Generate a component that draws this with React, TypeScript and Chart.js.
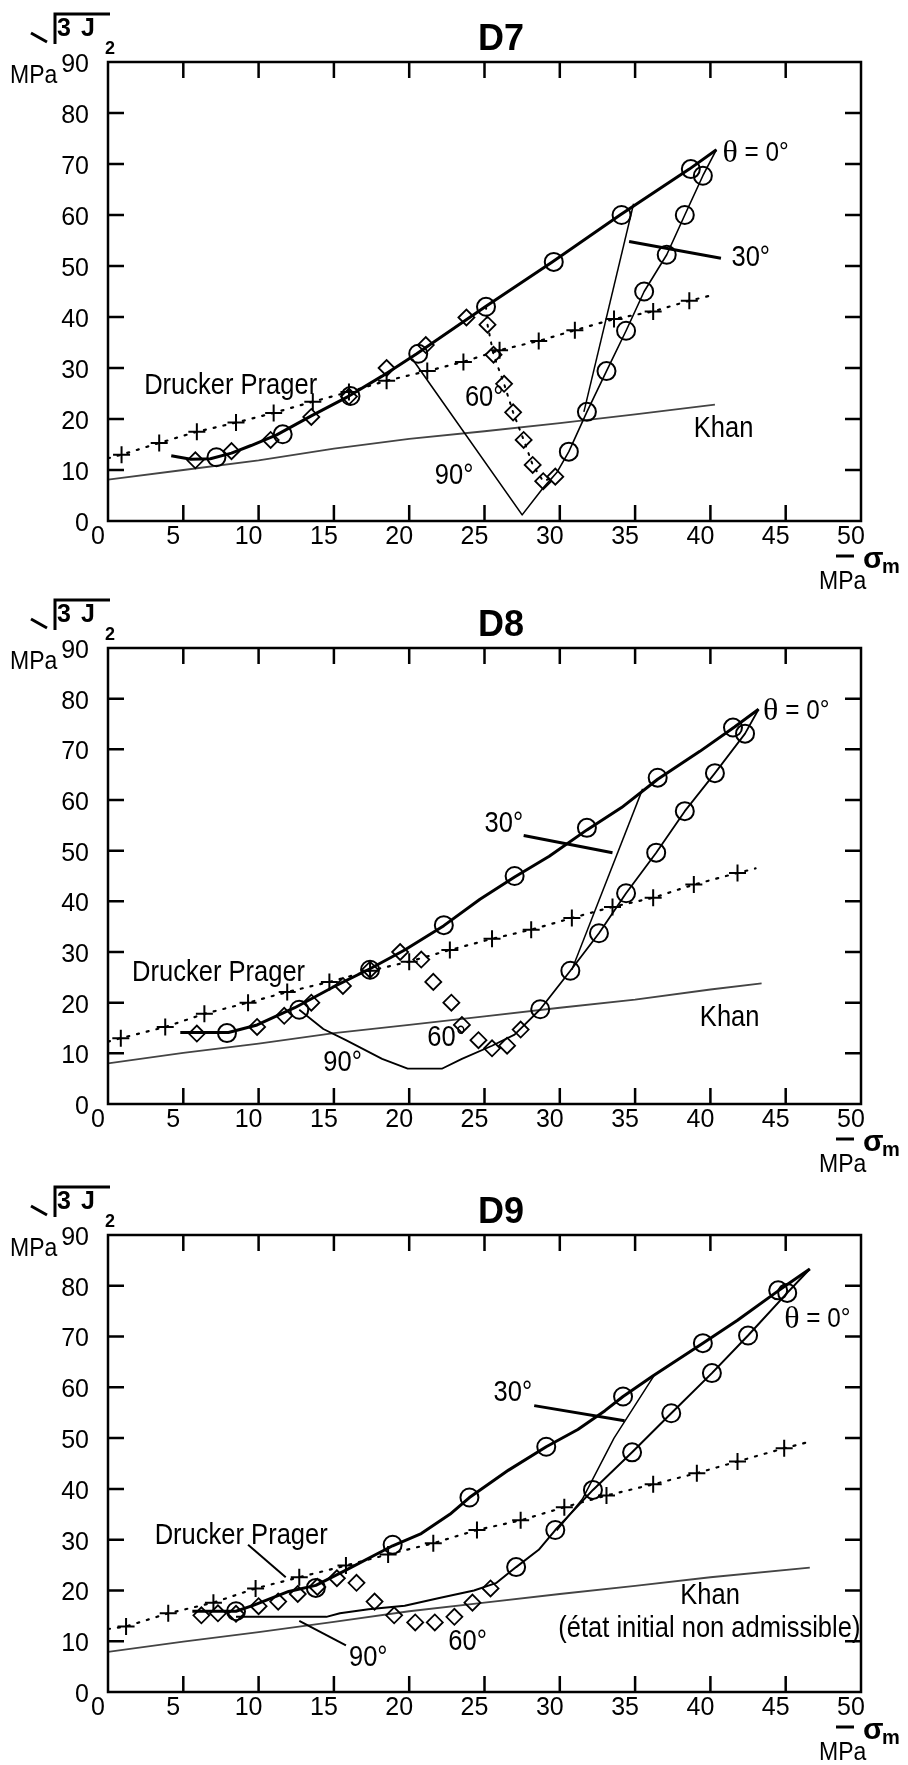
import React, { useEffect, useRef } from "react";
import { Chart, registerables } from "chart.js";

Chart.register(...registerables);

type Pt = [number, number];
type Note = { text: string; x: number; y: number };

const FONT = '"Liberation Sans", Arial, Helvetica, sans-serif';
const SERIF = '"Liberation Serif", "Times New Roman", serif';

const xTickValues = [0, 5, 10, 15, 20, 25, 30, 35, 40, 45, 50];
const yTickValues = [0, 10, 20, 30, 40, 50, 60, 70, 80, 90];

// ---------------- D7 ----------------
const d7DpMarks: Pt[] = [[0.9, 13.0], [3.4, 15.3], [5.9, 17.5], [8.5, 19.3], [11.0, 21.2], [13.6, 23.4], [16.0, 25.3], [18.5, 27.5], [21.2, 29.4], [23.6, 31.2], [26.0, 33.5], [28.6, 35.3], [31.0, 37.4], [33.6, 39.6], [36.2, 41.1], [38.6, 43.2]];
const d7DpLine: Pt[] = [[0, 12.3], [0.9, 13.0], [3.4, 15.3], [5.9, 17.5], [8.5, 19.3], [11.0, 21.2], [13.6, 23.4], [16.0, 25.3], [18.5, 27.5], [21.2, 29.4], [23.6, 31.2], [26.0, 33.5], [28.6, 35.3], [31.0, 37.4], [33.6, 39.6], [36.2, 41.1], [38.6, 43.2], [40.3, 44.4]];
const d7Khan: Pt[] = [[0, 8.1], [5, 10.0], [10, 11.9], [15, 14.2], [20, 16.1], [25, 17.6], [30, 19.2], [35, 20.9], [40.3, 22.8]];
const d7Upper: Pt[] = [[4.2, 12.8], [5.5, 12.1], [6.8, 12.2], [8.2, 13.3], [9.5, 14.8], [11.2, 16.9], [13.5, 20.6], [16.0, 24.5], [18.2, 28.4], [20.5, 32.8], [25.0, 41.9], [29.5, 50.8], [34.0, 60.0], [38.6, 69.0], [40.4, 72.8]];
const d7UpperCircles: Pt[] = [[7.2, 12.5], [11.6, 17.0], [16.1, 24.5], [20.6, 32.8], [25.1, 42.0], [29.6, 50.8], [34.1, 60.0], [38.7, 69.0]];
const d7Return: Pt[] = [[20.2, 31.8], [27.5, 1.2], [28.9, 6.5], [29.8, 9.5], [30.6, 13.6], [31.8, 21.4], [33.1, 29.4], [34.4, 37.3], [35.6, 45.0], [37.1, 52.2], [38.3, 60.0], [39.5, 67.7], [40.4, 72.8]];
const d7ReturnCircles: Pt[] = [[39.5, 67.7], [38.3, 60.0], [37.1, 52.2], [35.6, 45.0], [34.4, 37.3], [33.1, 29.4], [31.8, 21.4], [30.6, 13.6]];
const d7Thirty: Pt[] = [[34.9, 62.2], [31.6, 21.4]];
const d7ThirtyPointer: Pt[] = [[34.6, 54.8], [40.7, 51.5]];
const d7SixtyLine: Pt[] = [[25.1, 42.0], [25.2, 38.5], [25.6, 32.6], [26.3, 26.9], [26.9, 21.3], [27.6, 15.9], [28.2, 11.0], [28.9, 7.8], [29.7, 8.7]];
const d7Diamonds: Pt[] = [[5.8, 11.9], [8.2, 13.7], [10.8, 15.9], [13.5, 20.4], [16.0, 24.4], [18.5, 30.0], [21.1, 34.5], [23.8, 39.9], [25.2, 38.5], [25.6, 32.6], [26.3, 26.9], [26.9, 21.3], [27.6, 15.9], [28.2, 11.0], [28.9, 7.8], [29.7, 8.7]];
const d7Notes: Note[] = [
  { text: "θ = 0°", x: 40.8, y: 72.0 },
  { text: "30°", x: 41.4, y: 51.5 },
  { text: "Drucker Prager", x: 2.4, y: 26.5 },
  { text: "60°", x: 23.7, y: 24.1 },
  { text: "90°", x: 21.7, y: 8.9 },
  { text: "Khan", x: 38.9, y: 18.1 },
];

// ---------------- D8 ----------------
const d8DpMarks: Pt[] = [[0.85, 13.0], [3.8, 15.2], [6.4, 17.8], [9.3, 20.0], [11.9, 22.1], [14.7, 24.1], [17.4, 26.3], [20.0, 28.1], [22.7, 30.4], [25.5, 32.6], [28.1, 34.4], [30.8, 36.7], [33.5, 38.9], [36.2, 40.7], [38.9, 43.3], [41.8, 45.6]];
const d8DpLine: Pt[] = [[0, 12.3], [0.85, 13.0], [3.8, 15.2], [6.4, 17.8], [9.3, 20.0], [11.9, 22.1], [14.7, 24.1], [17.4, 26.3], [20.0, 28.1], [22.7, 30.4], [25.5, 32.6], [28.1, 34.4], [30.8, 36.7], [33.5, 38.9], [36.2, 40.7], [38.9, 43.3], [41.8, 45.6], [43.0, 46.5]];
const d8Khan: Pt[] = [[0, 8.0], [5, 10.1], [10, 11.9], [15, 14.0], [20, 15.6], [25, 17.3], [30, 19.0], [35, 20.6], [40, 22.6], [43.4, 23.8]];
const d8Upper: Pt[] = [[4.8, 14.1], [8.0, 14.1], [9.9, 15.6], [12.4, 19.0], [14.9, 23.0], [17.4, 26.7], [19.7, 30.4], [22.3, 35.2], [24.7, 40.4], [27.0, 44.8], [29.3, 48.9], [31.8, 54.1], [34.1, 58.5], [36.5, 64.1], [39.3, 69.6], [41.6, 74.4], [43.2, 77.9]];
const d8UpperCircles: Pt[] = [[7.9, 14.0], [12.7, 18.6], [17.4, 26.5], [22.3, 35.3], [27.0, 45.0], [31.8, 54.5], [36.5, 64.4], [41.5, 74.3]];
const d8Return: Pt[] = [[12.7, 18.6], [14.3, 14.8], [15.8, 12.6], [18.2, 8.9], [19.9, 7.0], [22.2, 7.0], [23.5, 8.9], [25.5, 11.5], [27.0, 13.7], [28.7, 18.7], [30.7, 26.3], [32.6, 33.7], [34.4, 41.6], [36.4, 49.6], [38.3, 57.8], [40.3, 65.3], [42.3, 73.1], [43.2, 77.9]];
const d8ReturnCircles: Pt[] = [[42.3, 73.1], [40.3, 65.3], [38.3, 57.8], [36.4, 49.6], [34.4, 41.6], [32.6, 33.7], [30.7, 26.3], [28.7, 18.7]];
const d8Thirty: Pt[] = [[35.5, 62.2], [30.8, 26.5]];
const d8ThirtyPointer: Pt[] = [[27.6, 53.0], [33.5, 49.6]];
const d8Diamonds: Pt[] = [[5.9, 13.9], [9.9, 15.2], [11.7, 17.4], [13.5, 20.0], [15.6, 23.3], [17.4, 26.5], [19.4, 30.0], [20.8, 28.5], [21.6, 24.1], [22.8, 20.0], [23.5, 15.6], [24.6, 12.6], [25.5, 11.0], [26.5, 11.5], [27.4, 14.7]];
const d8Notes: Note[] = [
  { text: "θ = 0°", x: 43.5, y: 77.4 },
  { text: "30°", x: 25.0, y: 55.2 },
  { text: "Drucker Prager", x: 1.6, y: 25.9 },
  { text: "60°", x: 21.2, y: 13.0 },
  { text: "90°", x: 14.3, y: 8.0 },
  { text: "Khan", x: 39.3, y: 17.0 },
];

// ---------------- D9 ----------------
const d9DpMarks: Pt[] = [[1.2, 12.9], [4.0, 15.5], [7.0, 17.6], [9.8, 20.4], [12.7, 22.6], [15.8, 24.9], [18.6, 27.1], [21.6, 29.3], [24.5, 31.9], [27.4, 33.8], [30.3, 36.4], [33.1, 38.7], [36.2, 40.9], [39.1, 43.1], [41.8, 45.4], [44.9, 48.0]];
const d9DpLine: Pt[] = [[0, 12.4], [1.2, 12.9], [4.0, 15.5], [7.0, 17.6], [9.8, 20.4], [12.7, 22.6], [15.8, 24.9], [18.6, 27.1], [21.6, 29.3], [24.5, 31.9], [27.4, 33.8], [30.3, 36.4], [33.1, 38.7], [36.2, 40.9], [39.1, 43.1], [41.8, 45.4], [44.9, 48.0], [46.6, 49.3]];
const d9Khan: Pt[] = [[0, 7.9], [5, 9.9], [10, 11.8], [15, 13.8], [20, 15.9], [25, 17.6], [30, 19.3], [35, 20.9], [40, 22.6], [46.6, 24.5]];
const d9Upper: Pt[] = [[5.6, 15.9], [8.5, 15.9], [9.6, 17.0], [12.0, 19.8], [13.8, 21.0], [15.8, 24.0], [18.9, 28.8], [20.8, 31.2], [22.7, 35.0], [24.0, 38.3], [26.6, 43.7], [29.1, 48.3], [31.2, 51.7], [33.0, 55.4], [34.2, 58.2], [36.2, 62.3], [39.5, 68.7], [41.8, 73.2], [44.5, 79.0], [46.6, 83.3]];
const d9UpperCircles: Pt[] = [[8.5, 15.9], [13.8, 20.5], [18.9, 29.0], [24.0, 38.3], [29.1, 48.3], [34.2, 58.2], [39.5, 68.7], [44.5, 79.1]];
const d9Return: Pt[] = [[8.5, 14.8], [14.5, 14.8], [15.4, 15.5], [17.3, 16.3], [19.7, 17.0], [22.0, 18.5], [24.3, 20.0], [25.8, 21.5], [27.1, 24.6], [28.6, 28.0], [29.7, 31.9], [32.2, 39.8], [34.8, 47.2], [37.4, 54.9], [40.1, 62.8], [42.5, 70.2], [45.1, 78.6], [46.6, 83.3]];
const d9ReturnCircles: Pt[] = [[45.1, 78.6], [42.5, 70.2], [40.1, 62.8], [37.4, 54.9], [34.8, 47.2], [32.2, 39.8], [29.7, 31.9], [27.1, 24.6]];
const d9Thirty: Pt[] = [[36.3, 62.5], [33.6, 50.0], [31.5, 38.0], [29.8, 31.8]];
const d9ThirtyPointer: Pt[] = [[28.3, 56.4], [34.3, 53.4]];
const d9NinetyPointer: Pt[] = [[12.7, 14.0], [15.8, 9.2]];
const d9DpPointer: Pt[] = [[9.3, 29.0], [11.8, 22.6]];
const d9Diamonds: Pt[] = [[6.2, 15.1], [7.3, 15.5], [8.5, 15.4], [10.0, 16.9], [11.3, 17.8], [12.6, 19.3], [13.9, 20.7], [15.2, 22.4], [16.5, 21.5], [17.7, 17.8], [19.0, 15.1], [20.4, 13.7], [21.7, 13.7], [23.0, 14.8], [24.2, 17.6], [25.4, 20.4]];
const d9Notes: Note[] = [
  { text: "θ = 0°", x: 44.9, y: 73.4 },
  { text: "30°", x: 25.6, y: 58.8 },
  { text: "Drucker Prager", x: 3.1, y: 30.8 },
  { text: "60°", x: 22.6, y: 9.9 },
  { text: "90°", x: 16.0, y: 6.6 },
  { text: "Khan", x: 38.0, y: 18.9 },
  { text: "(état initial non admissible)", x: 29.9, y: 12.5 },
];

// ---------------- helpers ----------------
const toXY = (pts: Pt[]) => pts.map(([x, y]) => ({ x, y }));

const lineDs = (pts: Pt[], width: number, color = "#000", dash: number[] = []) => ({
  data: toXY(pts),
  showLine: true,
  borderColor: color,
  borderWidth: width,
  borderDash: dash,
  borderCapStyle: dash.length ? "round" : "butt",
  borderJoinStyle: "round",
  pointRadius: 0,
  pointHoverRadius: 0,
  fill: false,
  tension: 0,
});

const markDs = (pts: Pt[], style: string, radius: number, width: number) => ({
  data: toXY(pts),
  showLine: false,
  pointStyle: style,
  pointRadius: radius,
  pointHoverRadius: radius,
  pointBorderWidth: width,
  pointBorderColor: "#000",
  pointBackgroundColor: "rgba(0,0,0,0)",
});

type PanelCfg = {
  title: string;
  canvasTop: number;
  canvasHeight: number;
  plotBottom: number;
  datasets: any[];
  notes: Note[];
};

const PLOT_TOP = 62;
const PLOT_LEFT = 108;
const PLOT_RIGHT = 861;
const W = 908;

const panels: PanelCfg[] = [
  {
    title: "D7",
    canvasTop: 0,
    canvasHeight: 600,
    plotBottom: 521,
    notes: d7Notes,
    datasets: [
      markDs(d7UpperCircles, "circle", 9, 2),
      markDs(d7ReturnCircles, "circle", 9, 2),
      markDs(d7Diamonds, "rectRot", 8, 1.8),
      markDs(d7DpMarks, "cross", 8.5, 2),
      lineDs(d7Upper, 3),
      lineDs(d7Return, 1.6),
      lineDs(d7Thirty, 1.5),
      lineDs(d7ThirtyPointer, 3),
      lineDs(d7SixtyLine, 2, "#000", [2, 7]),
      lineDs(d7DpLine, 2.2, "#000", [2, 8]),
      lineDs(d7Khan, 1.8, "#444"),
    ],
  },
  {
    title: "D8",
    canvasTop: 586,
    canvasHeight: 600,
    plotBottom: 518,
    notes: d8Notes,
    datasets: [
      markDs(d8UpperCircles, "circle", 9, 2),
      markDs(d8ReturnCircles, "circle", 9, 2),
      markDs(d8Diamonds, "rectRot", 8, 1.8),
      markDs(d8DpMarks, "cross", 8.5, 2),
      lineDs(d8Upper, 3),
      lineDs(d8Return, 1.8),
      lineDs(d8Thirty, 1.5),
      lineDs(d8ThirtyPointer, 3),
      lineDs(d8DpLine, 2.2, "#000", [2, 8]),
      lineDs(d8Khan, 1.8, "#444"),
    ],
  },
  {
    title: "D9",
    canvasTop: 1173,
    canvasHeight: 592,
    plotBottom: 519,
    notes: d9Notes,
    datasets: [
      markDs(d9UpperCircles, "circle", 9, 2),
      markDs(d9ReturnCircles, "circle", 9, 2),
      markDs(d9Diamonds, "rectRot", 8, 1.8),
      markDs(d9DpMarks, "cross", 8.5, 2),
      lineDs(d9Upper, 3),
      lineDs(d9Return, 2),
      lineDs(d9Thirty, 1.5),
      lineDs(d9ThirtyPointer, 3),
      lineDs(d9NinetyPointer, 2),
      lineDs(d9DpPointer, 2),
      lineDs(d9DpLine, 2.2, "#000", [2, 8]),
      lineDs(d9Khan, 1.8, "#444"),
    ],
  },
];

// text drawn slightly condensed (scanned Helvetica look)
const drawCondensed = (ctx: CanvasRenderingContext2D, text: string, x: number, y: number, size: number, sx: number) => {
  ctx.save();
  ctx.translate(x, y);
  ctx.scale(sx, 1);
  ctx.font = `${size}px ${FONT}`;
  ctx.fillText(text, 0, 0);
  const w = ctx.measureText(text).width * sx;
  ctx.restore();
  return w;
};

const makeDecor = (cfg: PanelCfg) => ({
  id: "decor" + cfg.title,
  afterDraw(chart: any) {
    const ctx: CanvasRenderingContext2D = chart.ctx;
    const ca = chart.chartArea;
    const xs = chart.scales.x;
    const ys = chart.scales.y;
    ctx.save();
    ctx.strokeStyle = "#000";
    ctx.fillStyle = "#000";
    ctx.lineWidth = 2.5;
    ctx.lineCap = "butt";
    ctx.strokeRect(ca.left, ca.top, ca.right - ca.left, ca.bottom - ca.top);
    const tl = 16;
    ctx.beginPath();
    xTickValues.forEach((v) => {
      if (v <= 0 || v >= 50) return;
      const px = xs.getPixelForValue(v);
      ctx.moveTo(px, ca.bottom);
      ctx.lineTo(px, ca.bottom - tl);
      ctx.moveTo(px, ca.top);
      ctx.lineTo(px, ca.top + tl);
    });
    yTickValues.forEach((v) => {
      if (v <= 0 || v >= 90) return;
      const py = ys.getPixelForValue(v);
      ctx.moveTo(ca.left, py);
      ctx.lineTo(ca.left + tl, py);
      ctx.moveTo(ca.right, py);
      ctx.lineTo(ca.right - tl, py);
    });
    ctx.stroke();

    // title
    ctx.font = `bold 36px ${FONT}`;
    ctx.textAlign = "center";
    ctx.textBaseline = "alphabetic";
    ctx.fillText(cfg.title, 501, ca.top - 12);

    // y axis title: sqrt(3 J2)
    const L = ca.left;
    const T = ca.top;
    ctx.lineWidth = 3;
    ctx.beginPath();
    ctx.moveTo(L - 77, T - 29);
    ctx.lineTo(L - 61, T - 20);
    ctx.moveTo(L - 53, T - 18);
    ctx.lineTo(L - 53, T - 48);
    ctx.lineTo(L + 2, T - 48);
    ctx.stroke();
    ctx.textAlign = "left";
    ctx.font = `bold 25px ${FONT}`;
    ctx.fillText("3", L - 51, T - 26);
    ctx.fillText("J", L - 27, T - 26);
    ctx.font = `bold 18px ${FONT}`;
    ctx.fillText("2", L - 3, T - 8);
    drawCondensed(ctx, "MPa", L - 98, T + 21, 25, 0.92);

    // x axis title: -sigma_m / MPa
    const R = ca.right;
    const B = ca.bottom;
    ctx.lineWidth = 3;
    ctx.beginPath();
    ctx.moveTo(R - 25, B + 35);
    ctx.lineTo(R - 7, B + 35);
    ctx.stroke();
    ctx.font = `bold 30px ${FONT}`;
    ctx.fillText("σ", R + 2, B + 47);
    ctx.font = `bold 20px ${FONT}`;
    ctx.fillText("m", R + 21, B + 52);
    drawCondensed(ctx, "MPa", R - 42, B + 68, 25, 0.92);

    // annotations
    ctx.textBaseline = "middle";
    cfg.notes.forEach((n) => {
      const px = xs.getPixelForValue(n.x);
      const py = ys.getPixelForValue(n.y);
      if (n.text.startsWith("θ")) {
        ctx.font = `32px ${SERIF}`;
        ctx.fillText("θ", px, py);
        const w = ctx.measureText("θ").width;
        drawCondensed(ctx, n.text.slice(1), px + w, py, 27, 0.9);
      } else {
        drawCondensed(ctx, n.text, px, py, 29, 0.88);
      }
    });
    ctx.restore();
  },
});

function Panel({ cfg }: { cfg: PanelCfg }) {
  const ref = useRef<HTMLCanvasElement>(null);
  useEffect(() => {
    const canvas = ref.current;
    if (!canvas) return;
    const H = cfg.canvasHeight;
    const tickFont = { family: FONT, size: 25 };
    const chart = new Chart(canvas, {
      type: "scatter",
      data: { datasets: cfg.datasets as any },
      plugins: [makeDecor(cfg)],
      options: {
        responsive: false,
        animation: false,
        devicePixelRatio: 1,
        events: [],
        layout: {
          padding: { top: PLOT_TOP, left: 0, right: W - PLOT_RIGHT, bottom: 0 },
          autoPadding: false,
        } as any,
        plugins: {
          legend: { display: false },
          tooltip: { enabled: false },
          title: { display: false },
        },
        scales: {
          x: {
            type: "linear",
            min: 0,
            max: 50,
            afterBuildTicks: (s: any) => {
              s.ticks = xTickValues.map((v) => ({ value: v }));
            },
            afterFit: (s: any) => {
              s.height = H - cfg.plotBottom;
            },
            grid: { display: false, drawTicks: false },
            border: { display: false },
            ticks: {
              font: tickFont,
              color: "#000",
              padding: 1,
              labelOffset: -10,
              autoSkip: false,
              maxRotation: 0,
              minRotation: 0,
              callback: (v: any) => String(v),
            },
          },
          y: {
            type: "linear",
            min: 0,
            max: 90,
            afterBuildTicks: (s: any) => {
              s.ticks = yTickValues.map((v) => ({ value: v }));
            },
            afterFit: (s: any) => {
              s.width = PLOT_LEFT;
            },
            grid: { display: false, drawTicks: false },
            border: { display: false },
            ticks: {
              font: tickFont,
              color: "#000",
              padding: 19,
              labelOffset: 3,
              autoSkip: false,
              callback: (v: any) => String(v),
            },
          },
        },
      } as any,
    });
    return () => chart.destroy();
  }, [cfg]);
  return (
    <canvas
      ref={ref}
      width={W}
      height={cfg.canvasHeight}
      style={{ position: "absolute", left: 0, top: cfg.canvasTop, width: W, height: cfg.canvasHeight }}
    />
  );
}

export default function App() {
  return (
    <div style={{ position: "absolute", left: 0, top: 0, width: W, height: 1765, background: "#fff" }}>
      {panels.map((p) => (
        <Panel key={p.title} cfg={p} />
      ))}
    </div>
  );
}
